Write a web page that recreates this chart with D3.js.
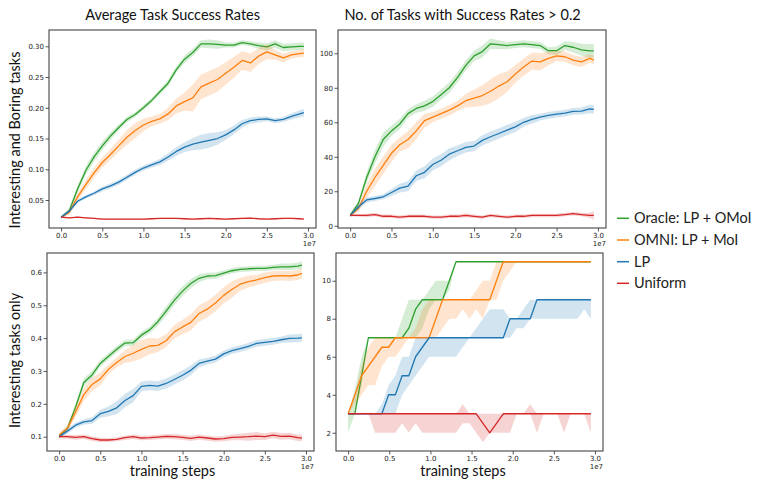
<!DOCTYPE html>
<html><head><meta charset="utf-8">
<script src="https://cdn.jsdelivr.net/npm/d3@7"></script>
<style>body{margin:0;background:#fff}</style>
</head><body>
<svg id="c" width="761" height="491"></svg>
<script>
// ---- data (x in units of 1e7 training steps) ----
const steps = [0,0.1,0.2,0.3,0.4,0.5,0.6,0.7,0.8,0.9,1.0,1.1,1.2,1.3,1.4,1.5,1.6,1.7,1.8,1.9,2.0,2.1,2.2,2.3,2.4,2.5,2.6,2.7,2.8,2.9,2.95];
const steps4 = [0,0.082,0.164,0.246,0.328,0.41,0.492,0.574,0.656,0.738,0.82,0.902,0.984,1.066,1.148,1.23,1.311,1.393,1.475,1.557,1.639,1.721,1.803,1.885,1.967,2.049,2.131,2.213,2.295,2.377,2.459,2.541,2.623,2.705,2.787,2.869,2.95];

const seriesNames = ["Oracle: LP + OMoI","OMNI: LP + MoI","LP","Uniform"];
const seriesColors = ["#2ca02c","#ff7f0e","#1f77b4","#d62728"];
const colTitles = ["Average Task Success Rates","No. of Tasks with Success Rates > 0.2"];
const rowLabels = ["Interesting and Boring tasks","Interesting tasks only"];
const xTicks = [0,0.5,1.0,1.5,2.0,2.5,3.0];
const yTicks1 = [0.05,0.10,0.15,0.20,0.25,0.30];
const yTicks2 = [0,20,40,60,80,100];
const yTicks3 = [0.1,0.2,0.3,0.4,0.5,0.6];
const yTicks4 = [2,4,6,8,10];

// Panel 1: average success, all tasks (mean, sd)
const avgOracle = [0.022,0.033,0.068,0.098,0.120,0.138,0.154,0.168,0.181,0.189,0.200,0.212,0.226,0.240,0.262,0.279,0.290,0.304,0.304,0.303,0.302,0.302,0.306,0.304,0.301,0.299,0.304,0.298,0.299,0.300,0.300];
const avgOracleSd = [0.002,0.004,0.006,0.007,0.007,0.007,0.006,0.005,0.004,0.004,0.004,0.004,0.004,0.005,0.005,0.006,0.006,0.006,0.007,0.007,0.004,0.004,0.004,0.004,0.005,0.006,0.006,0.006,0.006,0.006,0.006];
const avgOmni = [0.022,0.030,0.055,0.075,0.094,0.111,0.124,0.138,0.152,0.163,0.172,0.178,0.182,0.190,0.203,0.210,0.216,0.234,0.240,0.246,0.256,0.266,0.277,0.273,0.284,0.291,0.286,0.281,0.286,0.288,0.289];
const avgOmniSd = [0.002,0.004,0.006,0.008,0.008,0.008,0.009,0.010,0.012,0.012,0.010,0.008,0.008,0.010,0.012,0.015,0.022,0.020,0.020,0.020,0.018,0.017,0.015,0.015,0.013,0.012,0.008,0.007,0.006,0.006,0.006];
const avgLP = [0.022,0.032,0.048,0.055,0.061,0.068,0.073,0.079,0.087,0.095,0.102,0.107,0.112,0.120,0.129,0.136,0.141,0.144,0.147,0.150,0.156,0.164,0.174,0.179,0.181,0.182,0.179,0.181,0.186,0.190,0.192];
const avgLPSd = [0.002,0.003,0.003,0.003,0.003,0.004,0.004,0.004,0.004,0.004,0.004,0.004,0.005,0.006,0.007,0.008,0.010,0.012,0.012,0.010,0.008,0.007,0.006,0.005,0.005,0.004,0.004,0.004,0.005,0.006,0.006];
const avgUni = [0.022,0.021,0.022,0.021,0.020,0.019,0.019,0.019,0.019,0.019,0.019,0.0195,0.020,0.020,0.020,0.0195,0.019,0.0195,0.020,0.0195,0.019,0.0195,0.020,0.0205,0.0195,0.019,0.0195,0.020,0.020,0.0195,0.019];
const avgUniSd = [0.001,0.001,0.001,0.001,0.001,0.001,0.001,0.001,0.001,0.001,0.001,0.001,0.001,0.001,0.001,0.001,0.001,0.001,0.001,0.001,0.001,0.001,0.001,0.001,0.001,0.001,0.001,0.001,0.001,0.001,0.001];

// Panel 2: number of tasks with success > 0.2 (mean, sd)
const cntOracle = [6,13,28,40,50,55,59,65,68,69.5,72,76,80,86,93,98.5,101,105.5,105,104.5,105,105.5,105,104.5,101.5,101.5,104.5,103.5,102,101.4,101.4];
const cntOracleSd = [1,1.5,3,4,4,3,3,2.5,2.5,3,3,3,3,3,3,3,3.5,3,2.5,2,2,2,2,2,2,2.5,2.5,3,3.5,4,4];
const cntOmni = [6,10,20,28,35,42,47,50,55,61,63,65,67,69.5,72.5,74,75.5,78,81,83.5,88,92,95.5,95,97,98.5,98,96,95,97,96];
const cntOmniSd = [1,2,4,5,5,5,4,5,5,4,3,3,3,3,4,5,6,7,7,6,5,5,5,5,4,3,3,3,3,2.5,2.5];
const cntLP = [6,11,15,15.8,16.8,19.3,21.8,23,29,31,35.5,38,41.5,43.5,45.5,46.2,49.5,51.6,53.5,55.5,57.3,60,61.7,63,64,64.7,65.3,66.3,66.5,67.7,67.5];
const cntLPSd = [1,1.5,1.5,1.5,1.5,2,2.5,3,3,3.5,3.5,3.5,3.5,3,3,3,3,3,3,3,3,2.5,2.5,2,2,2,2,2,2,2.5,2.5];
const cntUni = [6,6,6,6.5,5.5,5.5,5,5.5,5.5,5.5,5,5,5.5,5.5,6,5.5,5,6,5.5,5,5.5,5.5,6,6,6,6,6.5,7,6.5,6,6];
const cntUniSd = [0.5,0.8,1,1,1,1,1,1,1,1,1,1,1,1,1.2,1,1,1,1,1,1,1,1,1,1,1,1,1,1,1.5,2.5];

// Panel 3: average success, interesting tasks only (mean, sd)
const intOracle = [0.100,0.125,0.190,0.265,0.288,0.323,0.345,0.366,0.385,0.386,0.409,0.425,0.450,0.482,0.515,0.543,0.566,0.582,0.589,0.590,0.598,0.605,0.609,0.611,0.612,0.612,0.615,0.617,0.617,0.619,0.622];
const intOracleSd = [0.005,0.008,0.012,0.012,0.012,0.010,0.010,0.010,0.010,0.010,0.010,0.010,0.012,0.014,0.015,0.015,0.014,0.012,0.010,0.010,0.008,0.008,0.008,0.008,0.008,0.008,0.008,0.010,0.010,0.010,0.012];
const intOmni = [0.105,0.125,0.175,0.228,0.259,0.276,0.305,0.326,0.344,0.354,0.366,0.376,0.378,0.392,0.419,0.434,0.448,0.475,0.488,0.507,0.530,0.548,0.564,0.572,0.577,0.584,0.589,0.590,0.589,0.592,0.597];
const intOmniSd = [0.008,0.010,0.015,0.020,0.020,0.020,0.015,0.015,0.020,0.025,0.028,0.025,0.020,0.020,0.020,0.022,0.025,0.025,0.025,0.025,0.025,0.025,0.020,0.018,0.016,0.016,0.015,0.015,0.015,0.015,0.015];
const intLP = [0.100,0.117,0.135,0.145,0.149,0.170,0.177,0.188,0.210,0.225,0.253,0.256,0.254,0.262,0.274,0.287,0.302,0.323,0.330,0.336,0.352,0.362,0.368,0.375,0.384,0.387,0.390,0.395,0.399,0.400,0.401];
const intLPSd = [0.005,0.008,0.008,0.008,0.010,0.012,0.015,0.020,0.020,0.020,0.015,0.015,0.015,0.015,0.015,0.015,0.015,0.012,0.010,0.010,0.010,0.010,0.010,0.010,0.010,0.010,0.010,0.010,0.012,0.012,0.012];
const intUni = [0.100,0.100,0.098,0.100,0.094,0.090,0.090,0.092,0.097,0.100,0.096,0.097,0.099,0.101,0.100,0.098,0.095,0.099,0.096,0.093,0.094,0.098,0.099,0.100,0.102,0.100,0.105,0.101,0.102,0.097,0.096];
const intUniSd = [0.005,0.006,0.007,0.007,0.007,0.007,0.006,0.006,0.007,0.007,0.007,0.007,0.007,0.007,0.008,0.008,0.008,0.008,0.008,0.008,0.008,0.009,0.010,0.012,0.012,0.010,0.010,0.010,0.010,0.010,0.010];

// Panel 4: number of interesting tasks solved (median, low, high)
const solvedOracle   = [3,3,5,7,7,7,7,7,7,7.5,8.5,9,9,9,9,10,11,11,11,11,11,11,11,11,11,11,11,11,11,11,11,11,11,11,11,11,11];
const solvedOracleLo = [2,3,4.5,7,7,7,7,7,7,7,7,7.5,8.5,9,9,9.5,11,11,11,11,11,11,11,11,11,11,11,11,11,11,11,11,11,11,11,11,11];
const solvedOracleHi = [3,4.3,6,7,7,7,7,7,8,9,9,9,9.5,10,10,10,11,11,11,11,11,11,11,11,11,11,11,11,11,11,11,11,11,11,11,11,11];
const solvedOmni   = [3,4,5,5.5,6,6.5,6.5,7,7,7,7,7,7,8,9,9,9,9,9,9,9,9,10,11,11,11,11,11,11,11,11,11,11,11,11,11,11];
const solvedOmniLo = [3,3.5,4,4.5,4.5,5.5,6,6,6.5,7,7,7,7,7,7.5,8,8,8.5,8,8.5,8,9,9,10,10.5,11,11,11,11,11,11,11,11,11,11,11,11];
const solvedOmniHi = [3,4,5.5,6.5,7,7,7,7,7,7,7.5,8.5,9,9,9,9,9,9,9,9.5,10,10,11,11,11,11,11,11,11,11,11,11,11,11,11,11,11];
const solvedLP   = [3,3,3,3,3,3,4,4,5,5,6,6.5,7,7,7,7,7,7,7,7,7,7,7,7,8,8,8,8,9,9,9,9,9,9,9,9,9];
const solvedLPLo = [3,3,3,3,3,3,3,3,4,4.5,5,5.5,6,6,6,6,6,6.5,7,7,7,7,7,7,7,7.5,7.5,8,8,8,8,8,8,8,8,8.5,8];
const solvedLPHi = [3,3,3,3,3,3.5,4.5,5,6,6,7,7,7,7,7,7,7,7,7,7.5,8,8.5,8.5,8.5,8,8,8.5,9,9,9,9,9,9,9,9,9,9];
const solvedUni   = [3,3,3,3,3,3,3,3,3,3,3,3,3,3,3,3,3,3,3,3,2.5,2,2.5,3,3,3,3,3,3,3,3,3,3,3,3,3,3];
const solvedUniLo = [3,3,3,3,2,2,2,2,2.5,2,2.5,2,2,2,2,2,2,2.5,2.5,2,1.5,2,2,2,2,3,3,3,2,3,3,3,2,3,3,3,2];
const solvedUniHi = [3,3,3,3,3,3,3,3,3,3,3,3,3,3,3,3,3,3.5,3,3,3,3,3,3,3,3,3,3.5,3,3,3,3,3,3,3,3,3];

function msd(m, s){ return {m: m, lo: m.map((v,i)=>v - s[i]), hi: m.map((v,i)=>v + s[i])}; }

const panels = [
  {box:[49,316,30,228], ydom:[0.00446,0.3265], yt:yTicks1, fmt:".2f", xs:steps,
   ser:[msd(avgOracle,avgOracleSd),msd(avgOmni,avgOmniSd),msd(avgLP,avgLPSd),msd(avgUni,avgUniSd)]},
  {box:[338,606,30,228], ydom:[-1.3,113.5], yt:yTicks2, fmt:"d", xs:steps,
   ser:[msd(cntOracle,cntOracleSd),msd(cntOmni,cntOmniSd),msd(cntLP,cntLPSd),msd(cntUni,cntUniSd)]},
  {box:[47,314,253,451], ydom:[0.0565,0.659], yt:yTicks3, fmt:".1f", xs:steps,
   ser:[msd(intOracle,intOracleSd),msd(intOmni,intOmniSd),msd(intLP,intLPSd),msd(intUni,intUniSd)]},
  {box:[336,603,253,451], ydom:[1.04,11.46], yt:yTicks4, fmt:"d", xs:steps4,
   ser:[{m:solvedOracle,lo:solvedOracleLo,hi:solvedOracleHi},{m:solvedOmni,lo:solvedOmniLo,hi:solvedOmniHi},
        {m:solvedLP,lo:solvedLPLo,hi:solvedLPHi},{m:solvedUni,lo:solvedUniLo,hi:solvedUniHi}]}
];

const svg = d3.select("#c");
const FR = "#444";
const tickFont = "'DejaVu Sans', sans-serif";
const labFont = "Lato, 'Open Sans', sans-serif";
const LAB = "14.5px";

panels.forEach((p, pi) => {
  const [x0,x1,y0,y1] = p.box;
  const x = d3.scaleLinear().domain([-0.1475, 3.0975]).range([x0, x1]);
  const y = d3.scaleLinear().domain(p.ydom).range([y1, y0]);
  const g = svg.append("g");
  const cid = "clip" + pi;
  svg.append("clipPath").attr("id", cid).append("rect")
    .attr("x", x0).attr("y", y0).attr("width", x1-x0).attr("height", y1-y0);
  const plot = g.append("g").attr("clip-path", `url(#${cid})`);
  p.ser.forEach((s, si) => {
    const idx = d3.range(s.m.length);
    const area = d3.area().x(i => x(p.xs[i])).y0(i => y(s.lo[i])).y1(i => y(s.hi[i]));
    const line = d3.line().x(i => x(p.xs[i])).y(i => y(s.m[i]));
    plot.append("path").attr("d", area(idx)).attr("fill", seriesColors[si]).attr("fill-opacity", 0.2).attr("stroke","none");
    plot.append("path").attr("d", line(idx)).attr("fill","none").attr("stroke", seriesColors[si])
      .attr("stroke-width", 1.3).attr("stroke-linejoin","round");
  });
  // axes
  const ax = g.append("g").attr("transform", `translate(0,${y1})`)
    .call(d3.axisBottom(x).tickValues(xTicks).tickFormat(d3.format(".1f")).tickSize(3.5).tickPadding(1.5));
  const ay = g.append("g").attr("transform", `translate(${x0},0)`)
    .call(d3.axisLeft(y).tickValues(p.yt).tickFormat(d3.format(p.fmt)).tickSize(3.5).tickPadding(1.5));
  [ax, ay].forEach(a => {
    a.select(".domain").remove();
    a.selectAll("line").attr("stroke", FR).attr("stroke-width", 0.9);
    a.selectAll("text").attr("fill", "#222").style("font-family", tickFont).style("font-size", "7px");
  });
  g.append("rect").attr("x", x0).attr("y", y0).attr("width", x1-x0).attr("height", y1-y0)
    .attr("fill","none").attr("stroke", FR).attr("stroke-width", 1.1);
  g.append("text").attr("x", x1).attr("y", y1 + 17.7).attr("text-anchor","end")
    .attr("fill","#222").style("font-family", tickFont).style("font-size","7px").text("1e7");
});

// column titles
const titleX = [172.6, 462.6];
colTitles.forEach((t, i) => {
  svg.append("text").attr("x", titleX[i]).attr("y", 20).attr("text-anchor","middle")
    .attr("fill","#111").style("font-family", labFont).style("font-size", LAB).text(t);
});
// row labels
const rowY = [140, 360.5];
rowLabels.forEach((t, i) => {
  svg.append("text").attr("transform", `translate(20,${rowY[i]}) rotate(-90)`).attr("text-anchor","middle")
    .attr("fill","#111").style("font-family", labFont).style("font-size", LAB).text(t);
});
// x labels
[172.5, 463].forEach(cx => {
  svg.append("text").attr("x", cx).attr("y", 476).attr("text-anchor","middle")
    .attr("fill","#111").style("font-family", labFont).style("font-size", LAB).text("training steps");
});
// legend
const legY = [218.3, 240, 261.7, 283.3];
seriesNames.forEach((n, i) => {
  svg.append("line").attr("x1", 617).attr("x2", 629).attr("y1", legY[i]).attr("y2", legY[i])
    .attr("stroke", seriesColors[i]).attr("stroke-width", 1.5);
  svg.append("text").attr("x", 634).attr("y", legY[i]).attr("dy","0.35em")
    .attr("fill","#222").style("font-family", labFont).style("font-size", LAB).text(n);
});
</script>
</body></html>
